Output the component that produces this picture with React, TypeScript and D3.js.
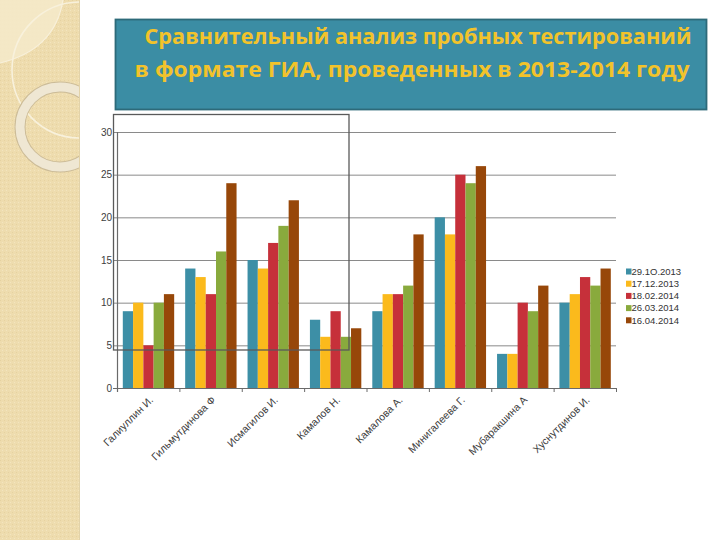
import React from "react";
import * as d3 from "d3";

const categories = [
  "Галиуллин И.",
  "Гильмутдинова Ф",
  "Исмагилов И.",
  "Камалов Н.",
  "Камалова А.",
  "Минигалеева Г.",
  "Мубаракшина А",
  "Хуснутдинов И.",
];
const seriesNames = ["29.1O.2013", "17.12.2013", "18.02.2014", "26.03.2014", "16.04.2014"];
const s1 = [9, 14, 15, 8, 9, 20, 4, 10];
const s2 = [10, 13, 14, 6, 11, 18, 4, 11];
const s3 = [5, 11, 17, 9, 11, 25, 10, 13];
const s4 = [10, 16, 19, 6, 12, 24, 9, 12];
const s5 = [11, 24, 22, 7, 18, 26, 12, 14];
const seriesValues = [s1, s2, s3, s4, s5];
const colors = ["#3d8fa6", "#fbba1c", "#c6303a", "#89aa3d", "#974709"];
const yTicks = [0, 5, 10, 15, 20, 25, 30];
const titleLines = [
  "Сравнительный анализ пробных тестирований",
  "в формате ГИА, проведенных в 2013-2014 году",
];

export default function App() {
  const W = 720;
  const H = 540;
  const left = 117;
  const right = 616;
  const top = 132;
  const bottom = 388;
  const y = d3.scaleLinear().domain([0, 30]).range([bottom, top]);
  const x0 = d3.scaleBand<string>().domain(categories).range([left, right]);
  const bw = x0.bandwidth();
  const x1 = d3
    .scaleBand<string>()
    .domain(seriesNames)
    .range([5.8, bw - 5.2]);

  return (
    <svg
      width={W}
      height={H}
      style={{ position: "absolute", left: 0, top: 0, background: "#fff" }}
      fontFamily="Arial, 'Liberation Sans', sans-serif"
    >
      <defs>
        <clipPath id="strip">
          <rect x={0} y={0} width={79} height={H} />
        </clipPath>
        <pattern id="tex" width="4" height="4" patternUnits="userSpaceOnUse">
          <rect width="4" height="4" fill="#eedcae" />
          <rect x="0" y="0" width="1" height="1" fill="#e6d2a0" />
          <rect x="2" y="2" width="1" height="1" fill="#f3e5bf" />
        </pattern>
      </defs>
      {/* decorative strip */}
      <rect x={0} y={0} width={79} height={H} fill="url(#tex)" />
      <g clipPath="url(#strip)">
        <path d="M0,0 L63,0 Q55,50 0,63 Z" fill="#f4e9c9" opacity={0.9} />
        <path d="M63,0 Q55,50 0,63" fill="none" stroke="#f8f0da" strokeWidth={1.2} />
        <circle cx={80} cy={70} r={68} fill="none" stroke="#f8f1dc" strokeWidth={1.6} />
        <circle cx={60} cy={127} r={40} fill="none" stroke="#ccbc98" strokeWidth={11} />
        <circle cx={60} cy={127} r={40} fill="none" stroke="#efe7d3" strokeWidth={9} />
      </g>
      <line x1={79.5} y1={0} x2={79.5} y2={H} stroke="#e2d2a8" strokeWidth={1} />

      {/* title box */}
      <rect x={115.5} y={19.5} width={591} height={90} fill="#3b8da4" stroke="#2d6a79" strokeWidth={1.8} />
      <text
        x={418}
        y={44}
        textAnchor="middle"
        fill="#f2c32b"
        fontSize={20.5}
        fontWeight="bold"
        fontFamily="'Open Sans', Lato, sans-serif"
        textLength={547}
        lengthAdjust="spacingAndGlyphs"
      >
        {titleLines[0]}
      </text>
      <text
        x={412}
        y={77}
        textAnchor="middle"
        fill="#f2c32b"
        fontSize={20.5}
        fontWeight="bold"
        fontFamily="'Open Sans', Lato, sans-serif"
        textLength={555}
        lengthAdjust="spacingAndGlyphs"
      >
        {titleLines[1]}
      </text>

      {/* gridlines */}
      {yTicks.map((t) => (
        <g key={t}>
          <line x1={113} x2={right} y1={y(t) + 0.5} y2={y(t) + 0.5} stroke="#8a8a8a" strokeWidth={1} />
          <text x={112} y={y(t)} dy="0.35em" textAnchor="end" fontSize={10} fill="#404040">
            {t}
          </text>
        </g>
      ))}

      {/* bars */}
      {categories.map((c, ci) => (
        <g key={c} transform={`translate(${x0(c)},0)`}>
          {seriesNames.map((s, si) => {
            const v = seriesValues[si][ci];
            return (
              <rect
                key={s}
                x={x1(s)}
                y={y(v)}
                width={x1.bandwidth()}
                height={y(0) - y(v)}
                fill={colors[si]}
              />
            );
          })}
        </g>
      ))}

      {/* axes */}
      <line x1={left + 0.5} x2={left + 0.5} y1={top} y2={bottom + 4} stroke="#6a6a6a" strokeWidth={1.2} />
      <line x1={113} x2={right} y1={bottom + 0.5} y2={bottom + 0.5} stroke="#6a6a6a" strokeWidth={1.2} />
      {categories.concat([""]).map((c, i) => {
        const xx = left + i * bw;
        return <line key={i} x1={xx + 0.5} x2={xx + 0.5} y1={bottom} y2={bottom + 4} stroke="#6a6a6a" />;
      })}
      {categories.map((c) => {
        const cx = (x0(c) as number) + bw / 2 + 3;
        const cy = 398;
        return (
          <text
            key={c}
            transform={`translate(${cx},${cy}) rotate(-45)`}
            textAnchor="end"
            dy="0.35em"
            fontSize={10.5}
            fill="#404040"
          >
            {c}
          </text>
        );
      })}

      {/* stray frame */}
      <rect x={113.5} y={114.5} width={235.5} height={235.5} fill="none" stroke="#5a5a5a" strokeWidth={1.3} />

      {/* legend */}
      {seriesNames.map((s, i) => (
        <g key={s} transform={`translate(626,${271.5 + i * 12.2})`}>
          <rect x={0} y={-3} width={5.5} height={6} fill={colors[i]} />
          <text x={5.5} y={0} dy="0.35em" fontSize={9.5} fill="#333">
            {s}
          </text>
        </g>
      ))}
    </svg>
  );
}
